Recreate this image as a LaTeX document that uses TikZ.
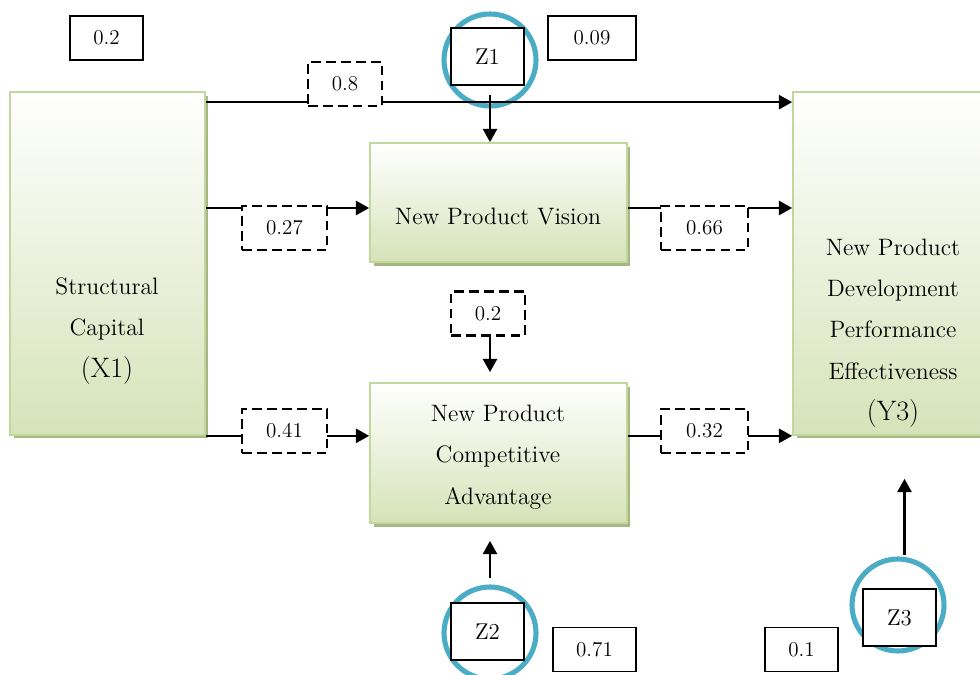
\documentclass[tikz,border=0pt]{standalone}
\usepackage{amsmath}
\usetikzlibrary{arrows.meta,shadows}

\definecolor{boxgreen}{RGB}{214,227,185}
\definecolor{boxedge}{RGB}{195,214,155}
\definecolor{boxshade}{RGB}{168,182,134}
\definecolor{ringblue}{RGB}{75,172,198}

\tikzset{
    varbox/.style={draw=boxedge, line width=1pt, top color=white, bottom color=boxgreen,
        drop shadow={shadow xshift=2pt, shadow yshift=-2pt, fill=boxshade, opacity=1}},
    vartext/.style={align=center, font=\fontsize{13.5}{23.5}\selectfont},
    ring/.style={circle, draw=ringblue, line width=2.9pt, minimum size=1.84cm, inner sep=0pt},
    zbox/.style={draw, fill=white, line width=1pt, minimum width=1.46cm, minimum height=1.14cm,
        font=\fontsize{13}{15}\selectfont},
    errbox/.style={draw, fill=white, line width=1pt, minimum height=0.88cm, inner sep=0pt,
        font=\fontsize{12}{14}\selectfont},
    coefbox/.style={draw, dash pattern=on 5.5pt off 3pt, fill=white, line width=1.2pt,
        minimum height=0.88cm, inner sep=0pt, font=\fontsize{12}{14}\selectfont},
    link/.style={line width=1.25pt, -{Triangle[length=7.5pt,width=8pt]}},
}

\begin{document}
\begin{tikzpicture}[x=0.02cm, y=-0.02cm]
    \useasboundingbox (0,0) rectangle (980,675);
    \clip (0,0) rectangle (980,675);

    % variables
    \node[varbox, minimum width=3.9cm, minimum height=6.86cm] (x1) at (107.5,263.5) {};
    \node[varbox, minimum width=5.14cm, minimum height=2.38cm] (vis) at (498.5,202.5) {};
    \node[varbox, minimum width=5.14cm, minimum height=2.8cm] (adv) at (498.5,453) {};
    \node[varbox, minimum width=4.04cm, minimum height=6.86cm] (y3) at (894,263.5) {};

    \node[vartext] (x1txt) at (107,331) {Structural\\Capital\\{\fontsize{16}{23.5}\selectfont(X1)}};
    \node[vartext] (vistxt) at (498,217) {New Product Vision};
    \node[vartext] (advtxt) at (498,457) {New Product\\Competitive\\Advantage};
    \node[vartext] (y3txt) at (893,333) {New Product\\Development\\Performance\\Effectiveness\\{\fontsize{16}{23.5}\selectfont(Y3)}};

    % moderators
    \node[ring] (z1ring) at (490,60) {};
    \node[zbox] (z1) at (487.5,56.5) {Z1};
    \node[ring] (z2ring) at (490,633) {};
    \node[zbox] (z2) at (487.5,631.5) {Z2};
    \node[ring] (z3ring) at (898,605) {};
    \node[zbox] (z3) at (899.5,617.5) {Z3};

    % paths
    \draw[link] ([yshift=-0.22cm]x1.north east) -- ([yshift=-0.22cm]y3.north west);
    \draw[link] ([yshift=-0.11cm]x1.east |- vis.west) -- ([yshift=-0.11cm]vis.west);
    \draw[link] ([yshift=-0.11cm]vis.east) -- ([yshift=-0.11cm]vis.east -| y3.west);
    \draw[link] (x1.south east) -- (x1.south east -| adv.west);
    \draw[link] (y3.south west -| adv.east) -- (y3.south west);
    \draw[link, shorten <=0.7cm] (z1ring.center) -- (z1ring.center |- vis.north);
    \draw[link, shorten <=1.1cm, shorten >=0.34cm] (z2ring.center) -- (z2ring.center |- adv.south);
    \draw[link, shorten <=0.66cm, shorten >=0.86cm] ([xshift=0.1cm]z3.north) -- ([xshift=0.1cm]z3.north |- y3.south);

    % coefficients
    \node[coefbox, minimum width=1.48cm] (c8) at (345,84) {0.8};
    \node[coefbox, minimum width=1.7cm] (c27) at (284.5,228) {0.27};
    \node[coefbox, minimum width=1.74cm] (c66) at (704.5,228) {0.66};
    \node[coefbox, minimum width=1.48cm] (c2) at (488,313.5) {0.2};
    \node[coefbox, minimum width=1.7cm] (c41) at (284.5,431) {0.41};
    \node[coefbox, minimum width=1.74cm] (c32) at (704.5,431) {0.32};
    \draw[link, shorten >=0.2cm] (z1ring.center |- c2.south) -- (z1ring.center |- adv.north);

    % error terms
    \node[errbox, minimum width=1.46cm] (e1) at (106.5,38) {0.2};
    \node[errbox, minimum width=1.76cm] (e2) at (592,38) {0.09};
    \node[errbox, minimum width=1.66cm] (e3) at (594.5,649.5) {0.71};
    \node[errbox, minimum width=1.46cm] (e4) at (801.5,649.5) {0.1};
\end{tikzpicture}
\end{document}
